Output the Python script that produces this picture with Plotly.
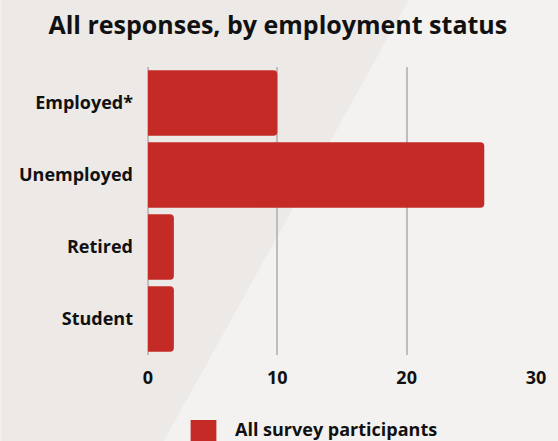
import plotly.graph_objects as go

categories = ["Employed*", "Unemployed", "Retired", "Student"]
counts = [10, 26, 2, 2]
series_name = "All survey participants"
x_ticks = [0, 10, 20, 30]

BAR_RED = "#c42b27"
BG_LEFT = "#ece9e6"
BG_RIGHT = "#f3f2f0"
FONT = "Open Sans"
INK = "#111111"

W, H = 558, 441
ml, mr, mt, mb = 148, 18.5, 67, 86
pw, ph = W - ml - mr, H - mt - mb


def px_to_paper(px, py):
    return (px - ml) / pw, (H - mb - py) / ph


fig = go.Figure()
fig.add_trace(go.Bar(
    y=categories,
    x=counts,
    orientation="h",
    name=series_name,
    marker=dict(color=BAR_RED, line=dict(width=0)),
    showlegend=False,
))

# two-tone background split by a diagonal
x0, y0 = px_to_paper(0, 0)
x1, y1 = px_to_paper(411, 0)
x2, y2 = px_to_paper(164, H)
x3, y3 = px_to_paper(0, H)
fig.add_shape(
    type="path",
    xref="paper", yref="paper",
    path="M %f %f L %f %f L %f %f L %f %f Z" % (x0, y0, x1, y1, x2, y2, x3, y3),
    fillcolor=BG_LEFT, line=dict(width=0), layer="below",
)

# legend swatch and label
lx0, ly0 = px_to_paper(191, 420)
lx1, ly1 = px_to_paper(217, 446)
fig.add_shape(
    type="rect", xref="paper", yref="paper",
    x0=lx0, y0=ly1, x1=lx1, y1=ly0,
    fillcolor=BAR_RED, line=dict(width=0),
)
tx, ty = px_to_paper(234, 429)
fig.add_annotation(
    xref="paper", yref="paper", x=tx, y=ty,
    xanchor="left", yanchor="middle",
    text="<b>%s</b>" % series_name, showarrow=False,
    font=dict(family=FONT, size=18, color=INK),
)

fig.update_layout(
    width=W, height=H,
    margin=dict(l=ml, r=mr, t=mt, b=mb, pad=0),
    paper_bgcolor=BG_RIGHT,
    plot_bgcolor="rgba(0,0,0,0)",
    bargap=0.09,
    barcornerradius=4,
    showlegend=False,
    font=dict(family=FONT, color=INK),
    title=dict(
        text="<b>All responses, by employment status</b>",
        x=(W / 2 - ml) / pw, xanchor="center", xref="paper",
        y=1 - 25 / H, yanchor="middle", yref="container",
        font=dict(family=FONT, size=25, color=INK),
    ),
)

fig.update_xaxes(
    range=[0, 30],
    tickvals=x_ticks,
    ticktext=["<b>%d</b>" % v for v in x_ticks],
    showgrid=True, gridcolor="#bdbdbd", gridwidth=2,
    zeroline=True, zerolinecolor="#bdbdbd", zerolinewidth=2,
    showline=False, ticks="",
    tickfont=dict(family=FONT, size=18, color=INK),
    ticklabelstandoff=10,
    fixedrange=True,
)
fig.update_yaxes(
    categoryorder="array", categoryarray=categories[::-1],
    tickvals=categories,
    ticktext=["<b>%s</b>" % c for c in categories],
    showgrid=False, zeroline=False, showline=False, ticks="",
    tickfont=dict(family=FONT, size=18, color=INK),
    ticklabelstandoff=14,
    fixedrange=True,
)

fig.write_html("out.html", config={"displayModeBar": False})
